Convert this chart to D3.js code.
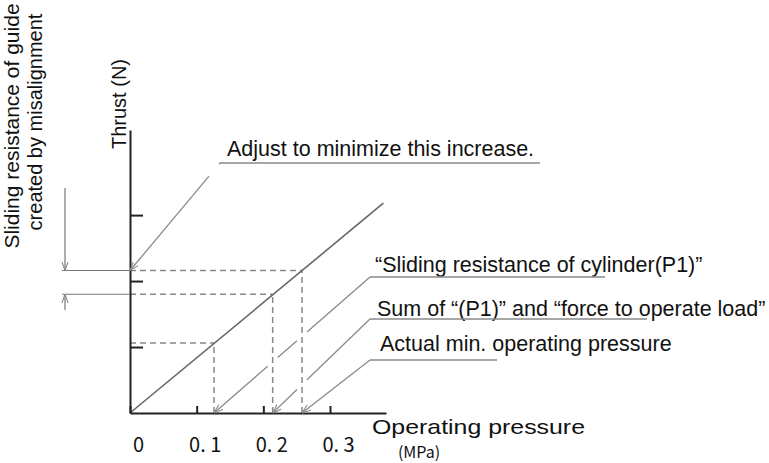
<!DOCTYPE html>
<html>
<head>
<meta charset="utf-8">
<script src="https://cdn.jsdelivr.net/npm/d3@7"></script>
<style>
  body { margin: 0; background: #fff; }
  text { font-family: 'Liberation Sans', Arial, sans-serif; fill: #111; }
  .cjk { font-family: 'Noto Sans CJK JP', sans-serif; }
</style>
</head>
<body>
<div id="container"></div>
<script>
const WIDTH = 769;
const HEIGHT = 463;
const AXIS = { LEFT: 130, RIGHT: 386, BOTTOM: 413, TOP: 130 };

// values
const pressureTicks = [0, 0.1, 0.2, 0.3];
const pressureTickLabels = ['0', '0. 1', '0. 2', '0. 3'];
const thrustTicks = [1, 2, 3];
const linePressure = [0, 0.38];
const lineThrust = [0, 3.18];
const markPressure = [0.126, 0.214, 0.258];
const markThrust = [1.06, 1.80, 2.16];
const calloutTexts = [
    'Adjust to minimize this increase.',
    '\u201cSliding resistance of cylinder(P1)\u201d',
    'Sum of \u201c(P1)\u201d and \u201cforce to operate load\u201d',
    'Actual min. operating pressure'
];

const xscale = d3.scaleLinear().domain([0, 0.384]).range([AXIS.LEFT, AXIS.RIGHT]);
const yscale = d3.scaleLinear().domain([0, 4.29]).range([AXIS.BOTTOM, AXIS.TOP]);

const svg = d3.select('#container')
              .append('svg')
                .attr('width', WIDTH)
                .attr('height', HEIGHT);

svg.append('defs')
   .append('marker')
     .attr('id', 'arrow')
     .attr('viewBox', '0 0 10 10')
     .attr('refX', 10)
     .attr('refY', 5)
     .attr('markerWidth', 9)
     .attr('markerHeight', 9)
     .attr('markerUnits', 'userSpaceOnUse')
     .attr('orient', 'auto')
   .append('path')
     .attr('d', 'M0,1.5 L10,5 L0,8.5')
     .attr('fill', 'none')
     .attr('stroke', '#888')
     .attr('stroke-width', 1.2);

// dashed guides from the points to both axes
const guides = svg.append('g')
                  .attr('stroke', '#888')
                  .attr('stroke-width', 1.5)
                  .attr('stroke-dasharray', '6 4')
                  .attr('fill', 'none');

guides.selectAll('.vguide')
      .data(markPressure)
      .enter()
      .append('line')
        .attr('class', 'vguide')
        .attr('x1', d => xscale(d))
        .attr('x2', d => xscale(d))
        .attr('y1', yscale(0))
        .attr('y2', (d, i) => yscale(markThrust[i]));

guides.selectAll('.hguide')
      .data(markThrust)
      .enter()
      .append('line')
        .attr('class', 'hguide')
        .attr('x1', xscale(0))
        .attr('x2', (d, i) => xscale(markPressure[i]))
        .attr('y1', d => yscale(d))
        .attr('y2', d => yscale(d));

// main thrust line
svg.append('line')
   .attr('x1', xscale(linePressure[0]))
   .attr('y1', yscale(lineThrust[0]))
   .attr('x2', xscale(linePressure[1]))
   .attr('y2', yscale(lineThrust[1]))
   .attr('stroke', '#666')
   .attr('stroke-width', 1.6);

// axes
const xAxis = svg.append('g')
                 .attr('transform', `translate(0, ${AXIS.BOTTOM})`)
                 .call(d3.axisBottom(xscale)
                         .tickValues(pressureTicks)
                         .tickFormat((d, i) => pressureTickLabels[i])
                         .tickSizeInner(-7)
                         .tickSizeOuter(0)
                         .tickPadding(25));
xAxis.selectAll('text')
     .attr('class', 'cjk')
     .attr('dx', 8)
     .style('font-size', '20px');

const yAxis = svg.append('g')
                 .attr('transform', `translate(${AXIS.LEFT}, 0)`)
                 .call(d3.axisLeft(yscale)
                         .tickValues(thrustTicks)
                         .tickFormat('')
                         .tickSizeInner(-13)
                         .tickSizeOuter(0));

svg.selectAll('.domain, .tick line')
   .attr('stroke', '#222')
   .attr('stroke-width', 2);

// axis titles
svg.append('text')
   .attr('x', 372)
   .attr('y', 434)
   .attr('textLength', 213)
   .attr('lengthAdjust', 'spacingAndGlyphs')
   .style('font-size', '21px')
   .text('Operating pressure');

svg.append('text')
   .attr('class', 'cjk')
   .attr('x', 419)
   .attr('y', 458)
   .attr('text-anchor', 'middle')
   .style('font-size', '16px')
   .text('(MPa)');

svg.append('text')
   .attr('transform', 'translate(126, 104) rotate(-90)')
   .attr('text-anchor', 'middle')
   .style('font-size', '20px')
   .text('Thrust (N)');

svg.append('text')
   .attr('transform', 'translate(19, 126) rotate(-90)')
   .attr('text-anchor', 'middle')
   .style('font-size', '21px')
   .text('Sliding resistance of guide');

svg.append('text')
   .attr('transform', 'translate(42, 122) rotate(-90)')
   .attr('text-anchor', 'middle')
   .style('font-size', '20px')
   .text('created by misalignment');

// dimension for the increase on the thrust axis
const dim = svg.append('g')
               .attr('stroke', '#777')
               .attr('stroke-width', 1.2)
               .attr('fill', 'none');

dim.selectAll('.ext')
   .data([markThrust[2], markThrust[1]])
   .enter()
   .append('line')
     .attr('class', 'ext')
     .attr('x1', 62)
     .attr('x2', xscale(0))
     .attr('y1', d => yscale(d))
     .attr('y2', d => yscale(d));

dim.append('line')
   .attr('x1', 65).attr('x2', 65)
   .attr('y1', 188)
   .attr('y2', yscale(markThrust[2]))
   .attr('marker-end', 'url(#arrow)');

dim.append('line')
   .attr('x1', 65).attr('x2', 65)
   .attr('y1', 310)
   .attr('y2', yscale(markThrust[1]))
   .attr('marker-end', 'url(#arrow)');

// callouts: text, underline and leader to the point it refers to
const callouts = [
    { tx: 227, ty: 156, ux1: 220, ux2: 540, uy: 163, tip: [xscale(0), yscale(markThrust[2])] },
    { tx: 375, ty: 272, ux1: 370, ux2: 605, uy: 277, tip: [xscale(markPressure[0]), yscale(0)] },
    { tx: 377, ty: 316, ux1: 370, ux2: 647, uy: 319, tip: [xscale(markPressure[1]), yscale(0)] },
    { tx: 380, ty: 351, ux1: 370, ux2: 497, uy: 360, tip: [xscale(markPressure[2]), yscale(0)] }
];

const GAP = 5;
const cuts = markPressure.map(d => xscale(d));

// split a leader where it passes a dashed vertical guide
const leaderSegments = (start, tip) => {
    const [x0, y0] = start;
    const [x1, y1] = tip;
    const yAt = x => y0 + (y1 - y0) * (x - x0) / (x1 - x0);
    const lo = Math.min(x0, x1), hi = Math.max(x0, x1);
    const inside = cuts.filter(c => c > lo + GAP && c < hi - GAP).sort((a, b) => b - a);
    const segs = [];
    let cx = x0;
    inside.forEach(c => {
        segs.push([[cx, yAt(cx)], [c + GAP, yAt(c + GAP)]]);
        cx = c - GAP;
    });
    segs.push([[cx, yAt(cx)], [x1, y1]]);
    return segs;
};

const callout = svg.selectAll('.callout')
                   .data(callouts)
                   .enter()
                   .append('g')
                     .attr('class', 'callout');

callout.append('text')
       .attr('x', d => d.tx)
       .attr('y', d => d.ty)
       .style('font-size', '21.5px')
       .text((d, i) => calloutTexts[i]);

callout.append('line')
       .attr('x1', d => d.ux1)
       .attr('x2', d => d.ux2)
       .attr('y1', d => d.uy)
       .attr('y2', d => d.uy)
       .attr('stroke', '#8a8a8a')
       .attr('stroke-width', 1.5);

callout.each(function(d) {
    const segs = leaderSegments([d.ux1, d.uy], d.tip);
    d3.select(this)
      .selectAll('.leader')
      .data(segs)
      .enter()
      .append('line')
        .attr('class', 'leader')
        .attr('x1', s => s[0][0])
        .attr('y1', s => s[0][1])
        .attr('x2', s => s[1][0])
        .attr('y2', s => s[1][1])
        .attr('stroke', '#8a8a8a')
        .attr('stroke-width', 1.3)
        .attr('marker-end', (s, i) => i === segs.length - 1 ? 'url(#arrow)' : null);
});
</script>
</body>
</html>
